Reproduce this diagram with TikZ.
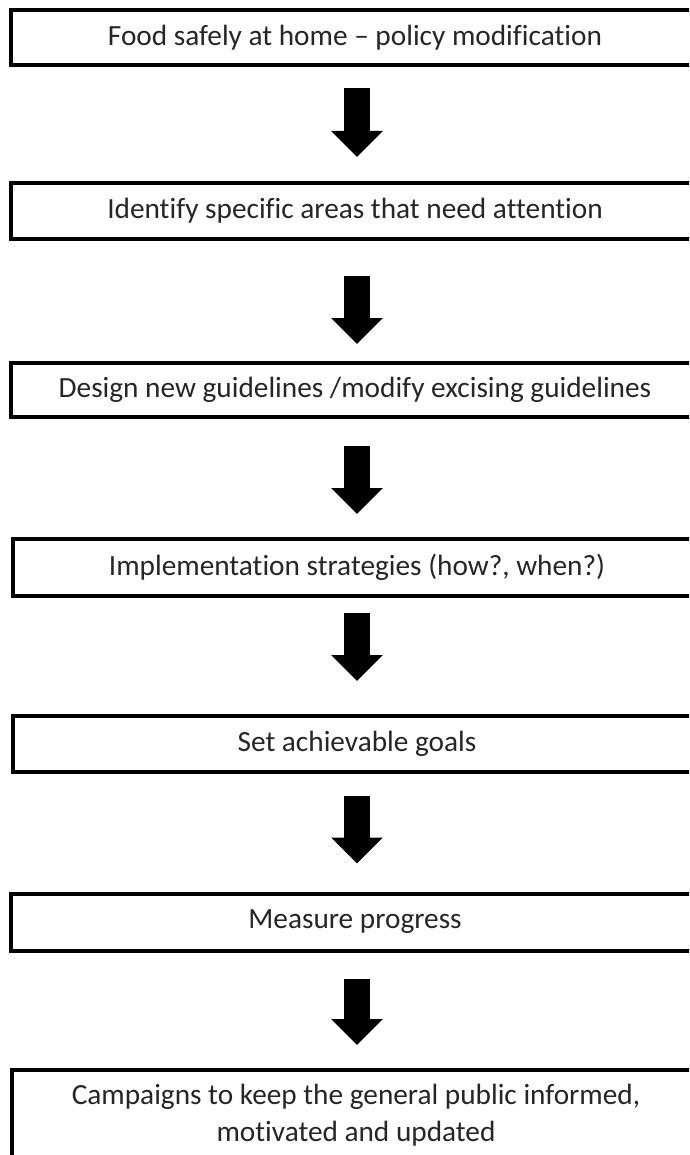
\documentclass[tikz,border=0pt]{standalone}
\usepackage{fontspec}
\setmainfont{Carlito}[Ligatures={NoCommon,NoRare},RawFeature={-liga;-clig;-dlig}]
\usetikzlibrary{arrows.meta,calc}
\begin{document}
\begin{tikzpicture}[x=1pt,y=-1pt,
  stepbox/.style={draw=black, line width=4pt, rectangle, minimum width=688pt,
    inner sep=0pt, align=center, text=black!85,
    font=\fontsize{29.3}{37}\selectfont},
  blockarrow/.style={line width=26pt, black,
    -{Triangle[width=50pt,length=26pt]}}]
\useasboundingbox (0,0) rectangle (689,1155);
\fill[white] (0,0) rectangle (689,1155);
\clip (0,0) rectangle (689,1155);
\node[stepbox, minimum height=55pt] (b1) at (355,37.5) {Food  safely at home -- policy modification};
\node[stepbox, minimum height=56pt] (b2) at (355,211) {Identify specific areas that need  attention};
\node[stepbox, minimum height=54pt] (b3) at (355,390) {Design new guidelines /modify excising guidelines};
\node[stepbox, minimum height=57pt] (b4) at (357,567.5) {Implementation  strategies (how?, when?)};
\node[stepbox, minimum height=56pt] (b5) at (357,744) {Set achievable goals};
\node[stepbox, minimum height=57pt] (b6) at (355,922) {Measure progress};
\node[stepbox, minimum height=90pt] (b7) at (356,1115) {Campaigns to keep the general public informed,\\ motivated and updated};
\draw[blockarrow] ($(b1.south)+(2,21)$) -- ($(b2.north)+(2,-24)$);
\draw[blockarrow] ($(b2.south)+(2,35)$) -- ($(b3.north)+(2,-17)$);
\draw[blockarrow] ($(b3.south)+(2,27)$) -- ($(b4.north)+(0,-23)$);
\draw[blockarrow] ($(b4.south)+(0,15)$) -- ($(b5.north)+(0,-33)$);
\draw[blockarrow] ($(b5.south)+(0,22)$) -- ($(b6.north)+(2,-28)$);
\draw[blockarrow] ($(b6.south)+(2,26)$) -- ($(b7.north)+(1,-23)$);
\end{tikzpicture}
\end{document}
